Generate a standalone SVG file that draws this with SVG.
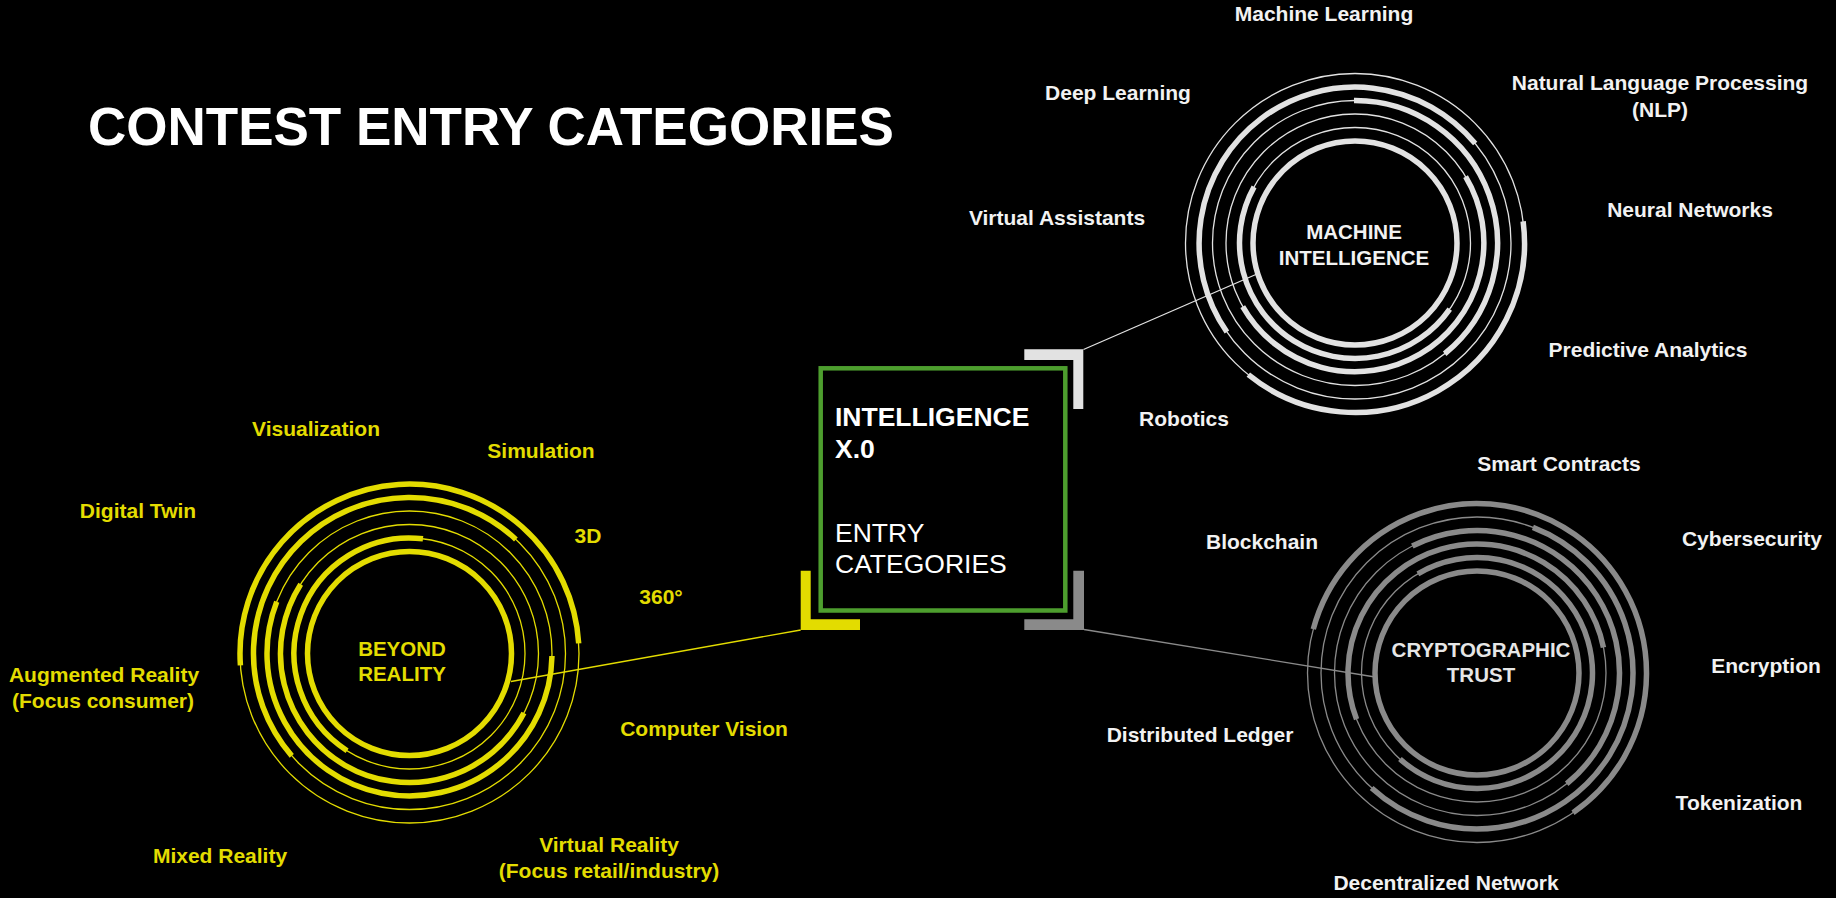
<svg xmlns="http://www.w3.org/2000/svg" width="1836" height="898" viewBox="0 0 1836 898">
<style>
text{font-family:"Liberation Sans",Arial,Helvetica,sans-serif;}
.lbl{font-size:21px;font-weight:bold;text-anchor:middle;}
.w{fill:#f2f2f2;}
.y{fill:#e3dc00;}
.ctr{font-size:20.5px;font-weight:bold;text-anchor:middle;}
.thinY{fill:none;stroke:#e3dc00;stroke-width:1.3;}
.thickY{fill:none;stroke:#e3dc00;stroke-width:5.5;}
.thinW{fill:none;stroke:#e2e2e2;stroke-width:1.3;}
.thickW{fill:none;stroke:#e2e2e2;stroke-width:5.5;}
.thinG{fill:none;stroke:#8a8a8a;stroke-width:1.3;}
.thickG{fill:none;stroke:#8a8a8a;stroke-width:5.5;}
</style>
<rect x="0" y="0" width="1836" height="898" fill="#000"/>
<text x="88" y="145" font-size="53" font-weight="bold" fill="#ffffff">CONTEST ENTRY CATEGORIES</text>

<g id="connectors">
<line x1="800.7" y1="630" x2="511" y2="681.5" stroke="#e3dc00" stroke-width="1.3"/>
<line x1="1083.5" y1="349.5" x2="1257" y2="274" stroke="#e2e2e2" stroke-width="1.3"/>
<line x1="1084" y1="629.5" x2="1375" y2="677" stroke="#8a8a8a" stroke-width="1.3"/>
</g>

<g id="center-box">
<rect x="820.7" y="368.3" width="244.6" height="242.2" fill="none" stroke="#4d9e2e" stroke-width="4.5"/>
<path d="M800.7 570.7 H810.7 V619.3 H860 V630 H800.7 Z" fill="#e3dc00"/>
<path d="M1024.3 349.3 H1083.3 V409 H1073.3 V360 H1024.3 Z" fill="#e2e2e2"/>
<path d="M1073.3 570.7 H1084 V630 H1024.3 V619.3 H1073.3 Z" fill="#8a8a8a"/>
<text x="835" y="426" font-size="26.5" font-weight="bold" fill="#ffffff">INTELLIGENCE</text>
<text x="835" y="458.3" font-size="26.5" font-weight="bold" fill="#ffffff">X.0</text>
<text x="835" y="541.7" font-size="26.5" fill="#ffffff">ENTRY</text>
<text x="835" y="572.7" font-size="26.5" fill="#ffffff">CATEGORIES</text>
</g>

<g id="beyond-reality">
<circle cx="409.5" cy="653.5" r="102" class="thickY"/>
<circle cx="409.5" cy="653.5" r="115.5" class="thinY"/>
<circle cx="409.5" cy="653.5" r="129" class="thinY"/>
<circle cx="409.5" cy="653.5" r="142.5" class="thinY"/>
<circle cx="409.5" cy="653.5" r="156" class="thinY"/>
<circle cx="409.5" cy="653.5" r="169.5" class="thinY"/>
<path class="thickY" d="M422.98 538.79 A115.5 115.5 0 0 0 347.11 750.69"/>
<path class="thickY" d="M300.70 584.19 A129 129 0 1 0 523.92 713.06"/>
<path class="thickY" d="M276.73 601.73 A142.5 142.5 0 1 0 551.98 655.99"/>
<path class="thickY" d="M515.89 539.40 A156 156 0 0 0 291.77 755.85"/>
<path class="thickY" d="M578.70 643.45 A169.5 169.5 0 1 0 240.41 665.32"/>
<text class="ctr y" x="402" y="656">BEYOND</text>
<text class="ctr y" x="402" y="681">REALITY</text>
</g>

<g id="machine-intelligence">
<circle cx="1355" cy="243" r="102" class="thickW"/>
<circle cx="1355" cy="243" r="115.5" class="thinW"/>
<circle cx="1355" cy="243" r="129" class="thinW"/>
<circle cx="1355" cy="243" r="142.5" class="thinW"/>
<circle cx="1355" cy="243" r="156" class="thinW"/>
<circle cx="1355" cy="243" r="169.5" class="thinW"/>
<path class="thickW" d="M1254.08 186.83 A115.5 115.5 0 0 0 1449.73 309.08"/>
<path class="thickW" d="M1242.72 306.52 A129 129 0 1 0 1465.58 176.56"/>
<path class="thickW" d="M1444.68 353.74 A142.5 142.5 0 0 0 1354.01 100.50"/>
<path class="thickW" d="M1475.20 143.57 A156 156 0 0 0 1226.91 332.03"/>
<path class="thickW" d="M1248.33 374.72 A169.5 169.5 0 0 0 1523.13 221.46"/>
<text class="ctr w" x="1354" y="239">MACHINE</text>
<text class="ctr w" x="1354" y="264.5">INTELLIGENCE</text>
</g>

<g id="cryptographic-trust">
<circle cx="1477" cy="673" r="102" class="thickG"/>
<circle cx="1477" cy="673" r="115.5" class="thinG"/>
<circle cx="1477" cy="673" r="129" class="thinG"/>
<circle cx="1477" cy="673" r="142.5" class="thinG"/>
<circle cx="1477" cy="673" r="156" class="thinG"/>
<circle cx="1477" cy="673" r="169.5" class="thinG"/>
<path class="thickG" d="M1399.96 759.06 A115.5 115.5 0 1 0 1417.86 573.79"/>
<path class="thickG" d="M1603.46 647.50 A129 129 0 1 0 1356.57 719.23"/>
<path class="thickG" d="M1566.68 783.74 A142.5 142.5 0 0 0 1412.30 546.03"/>
<path class="thickG" d="M1371.61 788.02 A156 156 0 1 0 1532.91 527.36"/>
<path class="thickG" d="M1573.00 812.68 A169.5 169.5 0 1 0 1313.28 629.13"/>
<text class="ctr" x="1481" y="656.7" fill="#e6e6e6">CRYPTOGRAPHIC</text>
<text class="ctr" x="1481" y="681.5" fill="#e6e6e6">TRUST</text>
</g>

<g id="labels-machine">
<text class="lbl w" x="1324" y="21">Machine Learning</text>
<text class="lbl w" x="1118" y="99.5">Deep Learning</text>
<text class="lbl w" x="1660" y="90">Natural Language Processing</text>
<text class="lbl w" x="1660" y="117">(NLP)</text>
<text class="lbl w" x="1690" y="217">Neural Networks</text>
<text class="lbl w" x="1057" y="225">Virtual Assistants</text>
<text class="lbl w" x="1648" y="357">Predictive Analytics</text>
<text class="lbl w" x="1184" y="426">Robotics</text>
</g>

<g id="labels-crypto">
<text class="lbl w" x="1559" y="471">Smart Contracts</text>
<text class="lbl w" x="1262" y="549">Blockchain</text>
<text class="lbl w" x="1752" y="546">Cybersecurity</text>
<text class="lbl w" x="1766" y="673">Encryption</text>
<text class="lbl w" x="1200" y="742">Distributed Ledger</text>
<text class="lbl w" x="1739" y="810">Tokenization</text>
<text class="lbl w" x="1446" y="890">Decentralized Network</text>
</g>

<g id="labels-beyond">
<text class="lbl y" x="316" y="436">Visualization</text>
<text class="lbl y" x="541" y="458">Simulation</text>
<text class="lbl y" x="138" y="518">Digital Twin</text>
<text class="lbl y" x="588" y="543">3D</text>
<text class="lbl y" x="661" y="604">360°</text>
<text class="lbl y" x="104" y="682">Augmented Reality</text>
<text class="lbl y" x="103" y="708">(Focus consumer)</text>
<text class="lbl y" x="704" y="736">Computer Vision</text>
<text class="lbl y" x="220" y="863">Mixed Reality</text>
<text class="lbl y" x="609" y="852">Virtual Reality</text>
<text class="lbl y" x="609" y="878">(Focus retail/industry)</text>
</g>
</svg>
